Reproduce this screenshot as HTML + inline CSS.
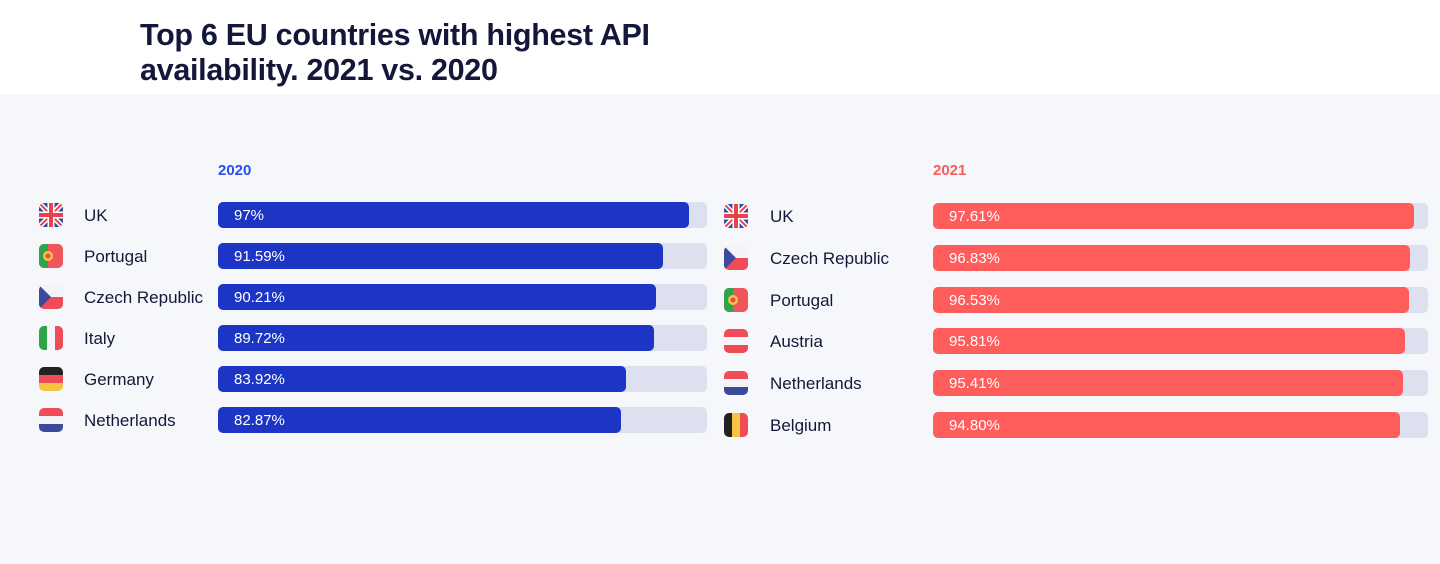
<!DOCTYPE html>
<html><head><meta charset="utf-8">
<style>
body{margin:0;width:1440px;height:564px;overflow:hidden;font-family:"Liberation Sans",sans-serif;background:#f6f7fb;position:relative}
#top{position:absolute;left:0;top:0;width:1440px;height:94px;background:#fff}
#title{position:absolute;left:140px;top:18px;font-size:30.5px;font-weight:bold;color:#13183a;line-height:35px;letter-spacing:-0.3px}
.yr{position:absolute;font-size:15px;font-weight:bold}
.name{position:absolute;font-size:17px;color:#13183a;line-height:20px}
.track{position:absolute;height:26px;border-radius:5px;background:#dde0ef}
.fill{position:absolute;left:0;top:0;height:26px;border-radius:5px}
.val{position:absolute;left:16px;top:5px;font-size:15px;color:#fff}
.flag{position:absolute;width:24px;height:24px;border-radius:5px;overflow:hidden}
</style></head><body>
<div id="top"></div>
<div id="title">Top 6 EU countries with highest API<br>availability. 2021 vs. 2020</div>
<div class="yr" style="left:218px;top:162px;color:#2b4cf0">2020</div>
<div class="yr" style="left:933px;top:162px;color:#ff5a5a">2021</div>
<div id="chart"></div>
<script>
const leftCountries=["UK","Portugal","Czech Republic","Italy","Germany","Netherlands"];
const leftValues=[97,91.59,90.21,89.72,83.92,82.87];
const leftLabels=["97%","91.59%","90.21%","89.72%","83.92%","82.87%"];
const rightCountries=["UK","Czech Republic","Portugal","Austria","Netherlands","Belgium"];
const rightValues=[97.61,96.83,96.53,95.81,95.41,94.80];
const rightLabels=["97.61%","96.83%","96.53%","95.81%","95.41%","94.80%"];
const flags={
"UK":'<svg width="24" height="24" viewBox="0 0 24 24"><rect width="24" height="24" fill="#3c4a9e"/><path d="M0 0L24 24M24 0L0 24" stroke="#fff" stroke-width="5"/><path d="M0 0L24 24M24 0L0 24" stroke="#e8424f" stroke-width="2"/><path d="M12 0V24M0 12H24" stroke="#fff" stroke-width="7"/><path d="M12 0V24M0 12H24" stroke="#e8424f" stroke-width="4"/></svg>',
"Portugal":'<svg width="24" height="24"><rect width="24" height="24" fill="#f0555b"/><rect width="9" height="24" fill="#2fa34a"/><circle cx="9" cy="12" r="5" fill="#f6c443"/><circle cx="9" cy="12" r="2.5" fill="#e84a4a"/></svg>',
"Czech Republic":'<svg width="24" height="24"><rect width="24" height="12" fill="#f4f4f6"/><rect y="12" width="24" height="12" fill="#ef4c57"/><path d="M0 0L12 12L0 24Z" fill="#3c4a9e"/></svg>',
"Italy":'<svg width="24" height="24"><rect width="8" height="24" fill="#2fa34a"/><rect x="8" width="8" height="24" fill="#f4f4f6"/><rect x="16" width="8" height="24" fill="#ef4c57"/></svg>',
"Germany":'<svg width="24" height="24"><rect width="24" height="8" fill="#222"/><rect y="8" width="24" height="8" fill="#ef4c57"/><rect y="16" width="24" height="8" fill="#f6c443"/></svg>',
"Netherlands":'<svg width="24" height="24"><rect width="24" height="8" fill="#ef4c57"/><rect y="8" width="24" height="8" fill="#f4f4f6"/><rect y="16" width="24" height="8" fill="#3c4a9e"/></svg>',
"Austria":'<svg width="24" height="24"><rect width="24" height="8" fill="#ef4c57"/><rect y="8" width="24" height="8" fill="#f4f4f6"/><rect y="16" width="24" height="8" fill="#ef4c57"/></svg>',
"Belgium":'<svg width="24" height="24"><rect width="8" height="24" fill="#222"/><rect x="8" width="8" height="24" fill="#f6c443"/><rect x="16" width="8" height="24" fill="#ef4c57"/></svg>'
};
function panel(countries,values,labels,cfg){
  const xs=v=>v/100*cfg.scaleW;
  countries.forEach((c,i)=>{
    const cy=cfg.y0+i*cfg.dy;
    const f=document.createElement('div');f.className='flag';
    
    
    f.style.left=cfg.flagX+'px';f.style.top=(cy-12)+'px';f.innerHTML=flags[c];document.body.appendChild(f);
    const n=document.createElement('div');n.className='name';
    
    
    n.style.left=cfg.nameX+'px';n.style.top=(cy-9)+'px';n.textContent=c;document.body.appendChild(n);
    const t=document.createElement('div');t.className='track';
    
    
    t.style.left=cfg.barX+'px';t.style.top=(cy-13)+'px';t.style.width=cfg.trackW+'px';
    const b=document.createElement('div');b.className='fill';
    
    
    b.style.width=xs(values[i])+'px';b.style.background=cfg.color;
    const v=document.createElement('div');v.className='val';
    
    
    v.textContent=labels[i];b.appendChild(v);t.appendChild(b);document.body.appendChild(t);
  });
}
panel(leftCountries,leftValues,leftLabels,{key:'2020',y0:215,dy:41,flagX:39,nameX:84,barX:218,trackW:489,scaleW:486,color:'#1c35c4'});
panel(rightCountries,rightValues,rightLabels,{key:'2021',y0:216,dy:41.8,flagX:724,nameX:770,barX:933,trackW:495,scaleW:493,color:'#ff5c5c'});
</script>
</body></html>
